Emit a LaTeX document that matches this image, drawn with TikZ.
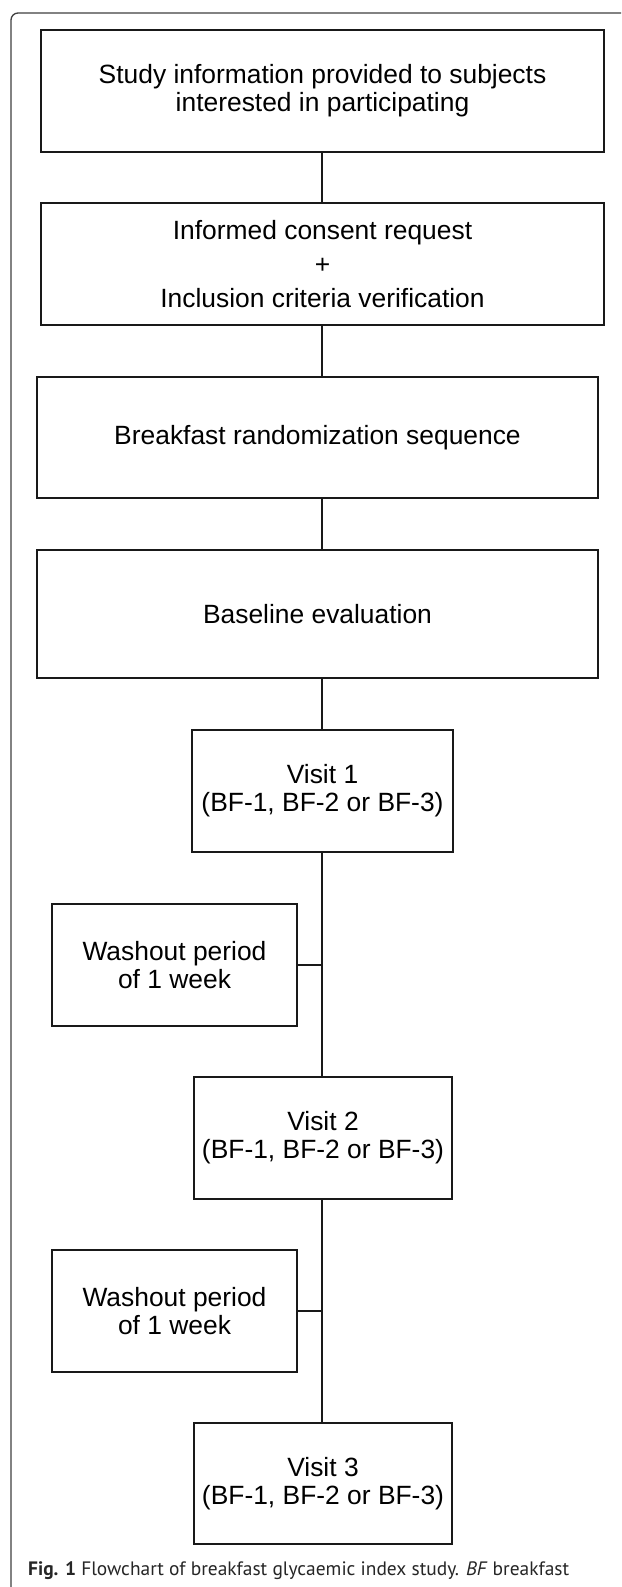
\documentclass[tikz,border=0pt]{standalone}
\usepackage{fontspec}
\setmainfont{Liberation Sans}
\newfontfamily\capfont{PT Sans}
\begin{document}
\begin{tikzpicture}[x=1pt,y=-1pt,
  box/.style={draw=black!90, line width=1.7pt, inner sep=0pt, align=center,
    font=\fontsize{26.4}{28}\selectfont},
  conn/.style={draw=black!90, line width=2.7pt},
  side/.style={draw=black!90, line width=1.6pt}]
\useasboundingbox (0,0) rectangle (621,1587);
\fill[white] (0,0) rectangle (621,1587);
% outer frame
\draw[black!75, line width=1.3pt, rounded corners=7pt] (11,1587) -- (11,13) -- (621,13);
% boxes
\node[box, minimum width=563pt, minimum height=122pt] (B1) at (322.5,91)
  {Study information provided to subjects\\interested in participating};
\node[box, minimum width=563pt, minimum height=122pt,
  font=\fontsize{26.4}{34}\selectfont] (B2) at (322.5,264)
  {Informed consent request\\+\\Inclusion criteria verification};
\node[box, minimum width=561pt, minimum height=121pt] (B3) at (317.5,437.5)
  {Breakfast randomization sequence};
\node[box, minimum width=561pt, minimum height=128pt] (B4) at (317.5,614)
  {Baseline evaluation};
\node[box, minimum width=261pt, minimum height=122pt] (V1) at (322.5,791)
  {Visit 1\\(BF-1, BF-2 or BF-3)};
\node[box, minimum width=245pt, minimum height=122pt] (W1) at (174.5,965)
  {Washout period\\of 1 week};
\node[box, minimum width=258pt, minimum height=122pt] (V2) at (323,1138)
  {Visit 2\\(BF-1, BF-2 or BF-3)};
\node[box, minimum width=245pt, minimum height=122pt] (W2) at (174.5,1311)
  {Washout period\\of 1 week};
\node[box, minimum width=258pt, minimum height=121pt] (V3) at (323,1483.5)
  {Visit 3\\(BF-1, BF-2 or BF-3)};
% connectors
\coordinate (col) at (322,0);
\draw[conn] (B1.south -| col) -- (B2.north -| col);
\draw[conn] (B2.south -| col) -- (B3.north -| col);
\draw[conn] (B3.south -| col) -- (B4.north -| col);
\draw[conn] (B4.south -| col) -- (V1.north -| col);
\draw[conn] (V1.south -| col) -- (V2.north -| col);
\draw[conn] (V2.south -| col) -- (V3.north -| col);
\draw[side] (W1.east) -- (W1.east -| col);
\draw[side] (W2.east) -- (W2.east -| col);
% caption
\node[anchor=base west, inner sep=0pt, text=black!85] (cap) at (28,1575)
  {\resizebox{541pt}{!}{\capfont\fontsize{20}{24}\selectfont
   \textbf{Fig. 1} Flowchart of breakfast glycaemic index study. \textit{BF} breakfast}};
\end{tikzpicture}
\end{document}
